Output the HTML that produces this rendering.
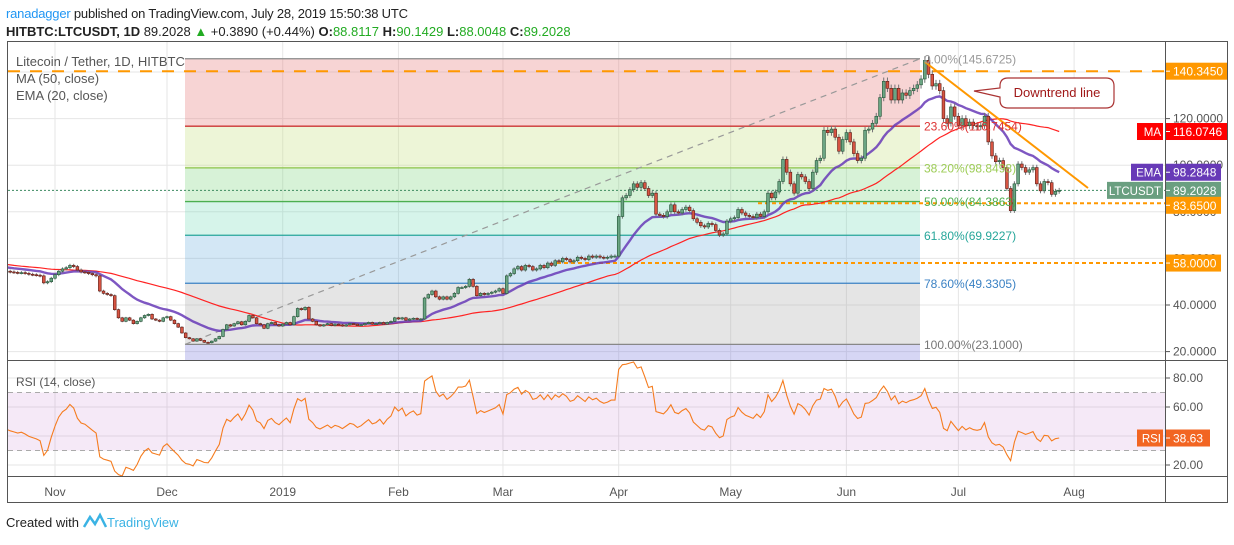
<!DOCTYPE html>
<html><head><meta charset="utf-8">
<style>
html,body{margin:0;padding:0;background:#fff;}
body{width:1234px;height:540px;overflow:hidden;font-family:"Liberation Sans",sans-serif;}
svg text{font-family:"Liberation Sans",sans-serif;}
</style></head>
<body>
<svg id="chart" width="1234" height="540" xmlns="http://www.w3.org/2000/svg">
  <g>
    <text x="6" y="18" font-size="13" fill="#222" textLength="402"><tspan fill="#2196f3">ranadagger</tspan> published on TradingView.com, July 28, 2019 15:50:38 UTC</text>
    <text x="6" y="36" font-size="13" fill="#222"><tspan font-weight="bold">HITBTC:LTCUSDT, 1D</tspan> 89.2028 <tspan fill="#22ab22">▲</tspan> +0.3890 (+0.44%) <tspan font-weight="bold">O:</tspan><tspan fill="#22ab22">88.8117</tspan> <tspan font-weight="bold">H:</tspan><tspan fill="#22ab22">90.1429</tspan> <tspan font-weight="bold">L:</tspan><tspan fill="#22ab22">88.0048</tspan> <tspan font-weight="bold">C:</tspan><tspan fill="#22ab22">89.2028</tspan></text>
  </g>
  <defs>
    <clipPath id="mainClip"><rect x="8" y="42" width="1157" height="318"/></clipPath>
    <clipPath id="rsiClip"><rect x="8" y="361" width="1157" height="115"/></clipPath>
  </defs>
  <g id="grid"></g>
  <g id="fib" clip-path="url(#mainClip)"></g>
  <g id="main" clip-path="url(#mainClip)"></g>
  <g id="rsi" clip-path="url(#rsiClip)"></g>
  <g id="axes"></g>
  <g id="frame">
    <rect x="7.5" y="41.5" width="1220" height="461" fill="none" stroke="#555" stroke-width="1"/>
    <line x1="1165.5" y1="41" x2="1165.5" y2="503" stroke="#555"/>
    <line x1="7" y1="360.5" x2="1228" y2="360.5" stroke="#555"/>
    <line x1="7" y1="476.5" x2="1228" y2="476.5" stroke="#555"/>
  </g>
  <g>
    <text x="16" y="66" font-size="13" fill="#555">Litecoin / Tether, 1D, HITBTC</text>
    <text x="16" y="83" font-size="13" fill="#555">MA (50, close)</text>
    <text x="16" y="100" font-size="13" fill="#555">EMA (20, close)</text>
    <text x="16" y="386" font-size="12" fill="#555">RSI (14, close)</text>
  </g>
  <g>
    <path d="M1008,78 H1106 Q1114,78 1114,86 V100 Q1114,108 1106,108 H1008 Q1000,108 1000,100 V97 L974,91 L1000,88 V86 Q1000,78 1008,78 Z" fill="#fff" stroke="#a33" stroke-width="1.2"/>
    <text x="1057" y="97" font-size="13" fill="#a01818" text-anchor="middle">Downtrend line</text>
  </g>
  <g>
    <text x="6" y="527" font-size="13" fill="#222">Created with</text>
    <path d="M84,527 L90,517 L95,524 L100,515 L106,527" fill="none" stroke="#3bb3e4" stroke-width="2.5"/>
    <text x="107" y="527" font-size="13" fill="#3bb3e4">TradingView</text>
  </g>
</svg>
<script>
const closes=[
54.5,54.2,54.0,53.8,53.9,53.6,53.2,
53.0,52.8,52.5,49.5,50.0,51.5,53.0,
54.5,55.5,56.0,57.0,56.5,55.0,54.2,
54.0,53.5,53.0,52.5,46.0,45.0,44.5,
44.0,38.0,34.5,33.0,34.5,33.5,32.0,
33.0,34.5,35.5,36.0,34.0,33.5,33.0,
34.5,35.0,33.5,32.0,30.5,28.0,26.0,
25.5,24.5,25.5,24.8,24.0,23.8,24.5,
25.5,26.5,29.5,31.5,31.0,32.0,32.8,
31.5,33.0,35.5,34.5,32.0,31.5,30.0,
32.0,32.5,31.5,31.0,31.8,32.5,31.5,
35.0,38.5,38.0,39.0,34.0,33.0,31.5,
31.0,31.5,32.0,31.2,31.8,31.5,31.0,
31.5,32.0,31.8,31.2,31.5,32.0,32.5,
31.8,32.0,32.5,31.8,32.5,33.0,34.5,
34.0,34.5,33.5,34.0,34.3,33.8,34.0,
43.0,44.5,46.0,43.5,42.5,43.5,42.5,
43.5,45.0,47.5,47.5,48.0,51.0,48.0,
44.0,45.0,44.5,45.0,45.5,46.0,47.0,
45.0,52.5,53.5,55.5,56.5,55.0,57.0,
56.5,55.0,55.5,57.0,56.0,58.0,57.0,
59.0,58.5,60.0,59.5,58.5,59.0,60.5,
60.0,59.5,61.0,60.5,61.0,60.5,60.2,
60.5,61.0,61.0,78.0,86.0,87.0,89.5,
92.0,90.5,92.5,90.0,87.0,88.0,79.0,
78.5,78.0,80.0,83.0,80.0,79.5,81.0,
82.0,80.5,77.0,75.5,74.0,73.5,75.0,
74.5,72.0,70.0,70.5,76.0,77.0,77.5,
81.0,79.5,78.5,78.0,77.5,79.0,78.0,
80.0,88.0,86.0,88.5,93.0,102.5,97.0,
92.0,88.0,96.0,95.0,93.0,90.0,97.0,
102.0,103.0,115.0,114.0,115.5,112.0,106.0,
111.0,114.0,110.0,105.0,102.0,103.0,115.0,
115.5,118.0,121.0,129.0,136.0,133.0,128.0,
133.0,128.0,131.0,130.0,132.0,133.0,134.5,
137.0,145.0,139.0,134.0,135.0,132.0,120.0,
118.0,125.0,121.0,117.0,120.0,117.0,118.5,
117.0,116.5,117.0,121.0,110.0,104.0,101.5,
102.0,99.0,90.0,80.5,92.0,100.5,99.0,
97.0,98.0,99.0,92.0,89.0,93.0,92.5,
87.5,88.8,89.2];
const priorCloses=[
66,65,64,63,62,61,61,60,59,59,
60,61,60,58,57,58,59,60,59,58,
57,56,57,58,59,58,57,56,57,58,
57,56,55,56,57,56,55,54,55,56,
55,54,55,54,55,54,53,54,55,54];
const emaSeed=56.3;
const priceTicks=[20,40,60,80,100,120,140];
const rsiTicks=[20,40,60,80];
const monthLabels=['Nov','Dec','2019','Feb','Mar','Apr','May','Jun','Jul','Aug'];
const monthDays=[13,43,74,105,133,164,194,225,255,286];
const fibLevels=[0,0.236,0.382,0.5,0.618,0.786,1];
const fibHigh=145.6725, fibLow=23.1;
const hLines=[140.345,83.65,58.0];
const lastLabels=['116.0746','98.2848','89.2028','38.63'];

const NS='http://www.w3.org/2000/svg';
const X=d=>55+(d-13)*3.733;
const Y=p=>305-(p-40)*2.33;
const RY=v=>378-(v-80)*1.45;
function mk(tag,attrs,parent){const e=document.createElementNS(NS,tag);for(const k in attrs)e.setAttribute(k,attrs[k]);parent.appendChild(e);return e;}
const grid=document.getElementById('grid'),fib=document.getElementById('fib'),main=document.getElementById('main'),rsiG=document.getElementById('rsi'),axes=document.getElementById('axes');

monthDays.forEach((d,i)=>{
  const l=mk('line',{x1:X(d),x2:X(d),y1:42,y2:476,stroke:'#e6e6e6'},grid);
  
  
  const t=mk('text',{x:X(d),y:496,'font-size':12,fill:'#555','text-anchor':'middle'},axes);
  t.textContent=monthLabels[i];
  
  
});
priceTicks.forEach(p=>{
  const l=mk('line',{x1:8,x2:1165,y1:Y(p),y2:Y(p),stroke:'#e6e6e6'},grid);
  
  
  mk('line',{x1:1165,x2:1170,y1:Y(p),y2:Y(p),stroke:'#555'},axes);
  const t=mk('text',{x:1173,y:Y(p)+4,'font-size':12,fill:'#555'},axes);
  t.textContent=p.toFixed(4);
  
  
});
rsiTicks.forEach(v=>{
  const l=mk('line',{x1:8,x2:1165,y1:RY(v),y2:RY(v),stroke:'#e6e6e6'},grid);
  
  
  mk('line',{x1:1165,x2:1170,y1:RY(v),y2:RY(v),stroke:'#555'},axes);
  const t=mk('text',{x:1173,y:RY(v)+4,'font-size':12,fill:'#555'},axes);
  t.textContent=v.toFixed(2);
  
  
});

const fx1=185,fx2=920;
const fibFills=['rgba(230,120,120,0.32)','rgba(200,225,130,0.32)','rgba(110,210,110,0.28)','rgba(90,210,170,0.25)','rgba(80,160,215,0.25)','rgba(160,160,160,0.28)'];
const fibColors=['#888','#c33','#8bc34a','#4caf50','#26a69a','#3b82c4','#888'];
const fibVals=fibLevels.map(l=>fibHigh-(fibHigh-fibLow)*l);
for(let i=0;i<fibVals.length-1;i++){
  const r=mk('rect',{x:fx1,y:Y(fibVals[i]),width:fx2-fx1,height:Y(fibVals[i+1])-Y(fibVals[i]),fill:fibFills[i]},fib);
  
  
}
const lr=mk('rect',{x:fx1,y:Y(fibLow),width:fx2-fx1,height:30,fill:'rgba(120,120,220,0.3)'},fib);


fibVals.forEach((v,i)=>{
  const l=mk('line',{x1:fx1,x2:fx2,y1:Y(v),y2:Y(v),stroke:fibColors[i],'stroke-width':1.3},fib);
  
  
});
const diag=mk('line',{x1:fx1,y1:Y(fibLow),x2:fx2,y2:Y(fibHigh),stroke:'#999','stroke-dasharray':'6,5','stroke-width':1.2},fib);



const h0=mk('line',{x1:8,x2:1165,y1:Y(hLines[0]),y2:Y(hLines[0]),stroke:'#ff9800','stroke-width':2,'stroke-dasharray':'12,10'},main);


const h1=mk('line',{x1:758,x2:1165,y1:Y(hLines[1]),y2:Y(hLines[1]),stroke:'#ff9800','stroke-width':2,'stroke-dasharray':'4,3'},main);


const h2=mk('line',{x1:557,x2:1165,y1:Y(hLines[2]),y2:Y(hLines[2]),stroke:'#ff9800','stroke-width':2,'stroke-dasharray':'4,3'},main);


const last=closes[closes.length-1];
const pl=mk('line',{x1:8,x2:1165,y1:Y(last),y2:Y(last),stroke:'#3d8a60','stroke-dasharray':'2,2'},main);



const all=priorCloses.concat(closes);
const ma=closes.map((c,i)=>{const j=i+priorCloses.length;let s=0;for(let k=j-49;k<=j;k++)s+=all[k];return s/50;});
const ema=[];let e=emaSeed;const a=2/21;
closes.forEach(c=>{e=e+(c-e)*a;ema.push(e);});
function path(arr,f,yf){return arr.map((v,i)=>(i?'L':'M')+X(i).toFixed(1)+','+yf(v).toFixed(1)).join(' ');}
const maP=mk('path',{d:path(ma,X,Y),fill:'none',stroke:'#f22','stroke-width':1.2},main);


const emaP=mk('path',{d:path(ema,X,Y),fill:'none',stroke:'#673ab7','stroke-width':2.4,'stroke-opacity':0.85},main);



closes.forEach((c,i)=>{
  const o=i?closes[i-1]:c;
  const hi=Math.max(o,c)*1.012, lo=Math.min(o,c)*0.988;
  const x=X(i);const up=c>=o;
  const w=mk('line',{x1:x,x2:x,y1:Y(hi),y2:Y(lo),stroke:'#737375'},main);
  
  
  const yt=Y(Math.max(o,c)),yb=Y(Math.min(o,c));
  const b=mk('rect',{x:x-1.4,y:yt,width:2.8,height:Math.max(1,yb-yt),fill:up?'#6ba583':'#d75442',stroke:up?'#225437':'#5b1a13','stroke-width':0.6},main);
  
  
});

const dt=mk('line',{x1:925,y1:62,x2:1088,y2:188,stroke:'#ff9800','stroke-width':2},main);



const band=mk('rect',{x:8,y:RY(70),width:1157,height:RY(30)-RY(70),fill:'rgba(156,39,176,0.1)'},rsiG);


[70,30].forEach(v=>{
  const l=mk('line',{x1:8,x2:1165,y1:RY(v),y2:RY(v),stroke:'#aaa','stroke-dasharray':'5,4'},rsiG);
  
  
});
const rsiVals=[];
{let ag=0,al=0;const n=14;
 for(let i=1;i<all.length;i++){const d=all[i]-all[i-1];const g=Math.max(d,0),l=Math.max(-d,0);
   if(i<=n){ag+=g/n;al+=l/n;} else {ag=(ag*(n-1)+g)/n;al=(al*(n-1)+l)/n;}
   if(i>=priorCloses.length){rsiVals.push(al===0?100:100-100/(1+ag/al));}}}
const rsiP=mk('path',{d:path(rsiVals,X,RY),fill:'none',stroke:'#f57c1f','stroke-width':1.1},rsiG);



function tag(y,txt,color,name,nameTxt,nameX,valW){
  if(nameTxt){const r=mk('rect',{x:nameX,y:y-8.5,width:1163-nameX,height:17,fill:color},axes);
    
    
    const t=mk('text',{x:1161,y:y+4.5,'font-size':11.5,fill:'#fff','text-anchor':'end'},axes);t.textContent=nameTxt;}
  const r=mk('rect',{x:1165,y:y-8.5,width:valW,height:17,fill:color},axes);
  
  
  mk('line',{x1:1166,x2:1170,y1:y,y2:y,stroke:'#fff'},axes);
  const t=mk('text',{x:1173,y:y+4.5,'font-size':12,fill:'#fff'},axes);t.textContent=txt;
}
tag(Y(hLines[0]),hLines[0].toFixed(4),'#ff9800','resistance',null,0,62);
tag(Y(ma[ma.length-1]),lastLabels[0],'#f00','ma','MA',1137,62);
tag(Y(ema[ema.length-1]),lastLabels[1],'#673ab7','ema','EMA',1131,56);
tag(Y(last),lastLabels[2],'#6a9f80','price','LTCUSDT',1107,56);
tag(Y(hLines[1])+2,hLines[1].toFixed(4),'#ff9800','support-83',null,0,56);
tag(Y(hLines[2]),hLines[2].toFixed(4),'#ff9800','support-58',null,0,56);
tag(RY(rsiVals[rsiVals.length-1]),lastLabels[3],'#f26522','rsi','RSI',1137,45);

const fibLabelColors=['#999','#d33','#9ccc55','#4caf50','#26a69a','#3b82c4','#777'];
fibVals.forEach((v,i)=>{
  const t=mk('text',{x:fx2+4,y:Y(v)+4.5,'font-size':12,fill:fibLabelColors[i]},axes);
  t.textContent=(fibLevels[i]*100).toFixed(2)+'%('+v.toFixed(4)+')';
  
  
});
</script>
</body></html>
